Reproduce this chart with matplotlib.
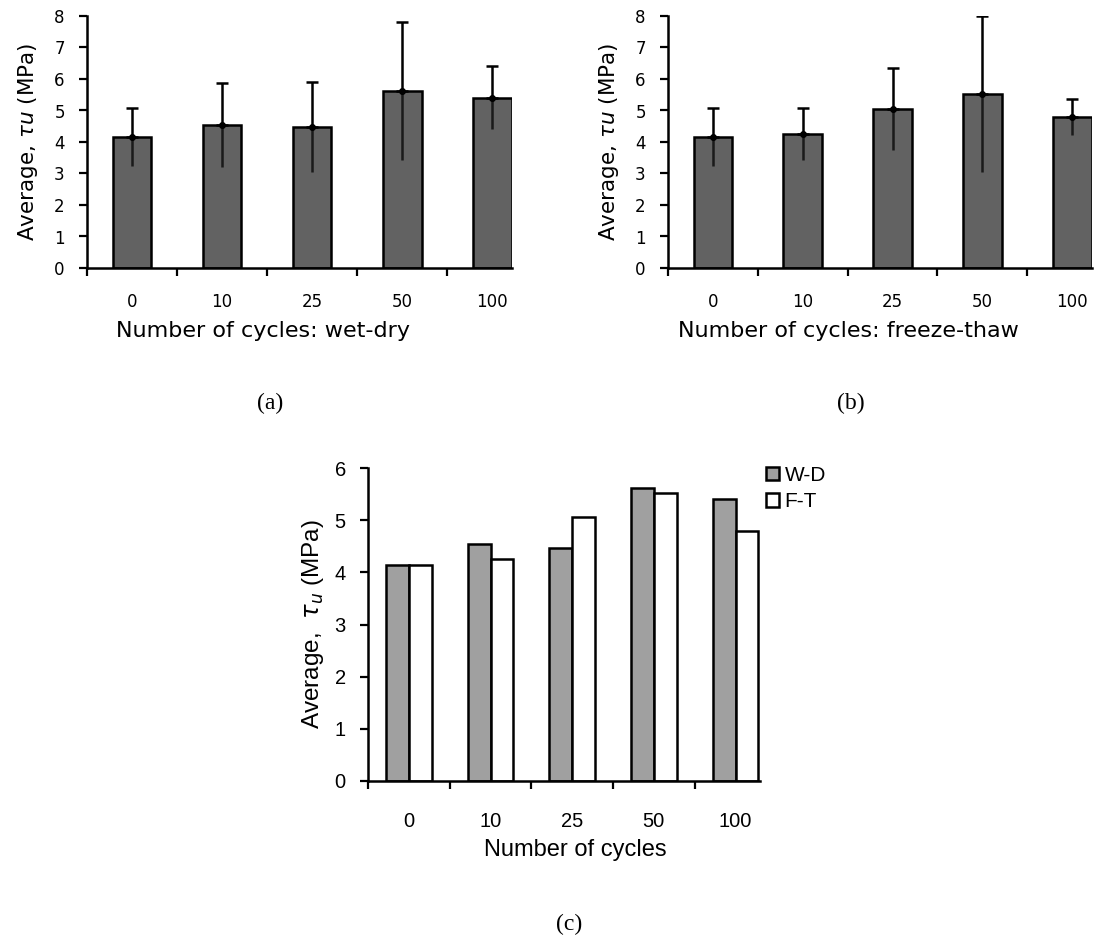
import numpy as np
import matplotlib
matplotlib.use("Agg")
import matplotlib.pyplot as plt
from matplotlib.ticker import FixedLocator, NullFormatter

# data
cycles = ["0", "10", "25", "50", "100"]
wd_mean = [4.15, 4.54, 4.47, 5.62, 5.40]
wd_err = [0.92, 1.32, 1.42, 2.18, 1.00]
ft_mean = [4.15, 4.25, 5.06, 5.52, 4.80]
ft_err = [0.92, 0.83, 1.30, 2.48, 0.57]

plt.rcParams["mathtext.fontset"] = "custom"
plt.rcParams["mathtext.rm"] = "DejaVu Sans"
plt.rcParams["mathtext.it"] = "DejaVu Sans:italic"

W, H = 1098, 938
fig = plt.figure(figsize=(W / 100, H / 100), dpi=100)


def px_axes(left, top, right, bottom):
    return fig.add_axes([left / W, 1 - bottom / H, (right - left) / W, (bottom - top) / H])


def style_axes(ax, ymax, xmax, fs_tick, family, pad):
    n = len(cycles)
    ax.set_xlim(-0.5, xmax)
    ax.set_ylim(0, ymax)
    ax.spines["top"].set_visible(False)
    ax.spines["right"].set_visible(False)
    ax.spines["left"].set_linewidth(1.8)
    ax.spines["bottom"].set_linewidth(1.8)
    ax.set_xticks(np.arange(n))
    ax.set_xticklabels(cycles, fontsize=fs_tick, family=family)
    ax.tick_params(axis="x", which="major", length=0, pad=pad)
    ax.xaxis.set_minor_locator(FixedLocator(np.arange(n) - 0.5))
    ax.xaxis.set_minor_formatter(NullFormatter())
    ax.tick_params(axis="x", which="minor", length=6, width=1.6, direction="out")
    ax.set_yticks(range(0, ymax + 1))
    ax.tick_params(axis="y", length=6, width=1.6, labelsize=fs_tick, pad=10)
    for lab in ax.get_yticklabels():
        lab.set_family(family)


def panel(ax, means, errs, xlabel, label_x):
    x = np.arange(len(cycles))
    means = np.array(means)
    errs = np.array(errs)
    ax.bar(x, means, width=0.43, color="#626262", edgecolor="black", linewidth=1.8)
    # lower half of the error bar shows only as a line inside the bar
    ax.vlines(x, means - errs, means, color="#1a1a1a", linewidth=1.8)
    ax.errorbar(x, means, yerr=[np.zeros_like(errs), errs], fmt="o", color="black",
                markersize=4, elinewidth=1.8, capsize=4, capthick=1.8)
    style_axes(ax, 8, 4.22, 12, "DejaVu Sans", 18)
    ax.set_xlabel(xlabel, fontsize=16, family="DejaVu Sans")
    ax.xaxis.set_label_coords(label_x, -0.21)
    ax.set_ylabel(r"Average, $\it{\tau u}$ (MPa)", fontsize=15.5, family="DejaVu Sans", labelpad=10)


ax_a = px_axes(87, 16, 512, 268)
panel(ax_a, wd_mean, wd_err, "Number of cycles: wet-dry", 0.415)
ax_b = px_axes(668, 16, 1092, 268)
panel(ax_b, ft_mean, ft_err, "Number of cycles: freeze-thaw", 0.425)

# panel c: both series side by side
ax_c = px_axes(368, 468, 760, 781)
x = np.arange(len(cycles))
ax_c.bar(x - 0.14, wd_mean, width=0.28, color="#a0a0a0", edgecolor="black",
         linewidth=1.8, label="W-D")
ax_c.bar(x + 0.14, ft_mean, width=0.28, color="white", edgecolor="black",
         linewidth=1.8, label="F-T")
style_axes(ax_c, 6, 4.3, 14.5, "Liberation Sans", 22)
ax_c.set_xlabel("Number of cycles", fontsize=17, family="Liberation Sans")
ax_c.xaxis.set_label_coords(0.53, -0.185)
ax_c.set_ylabel(r"Average,  $\mathit{\tau_u}$ (MPa)", fontsize=17.5, family="Liberation Sans", labelpad=6)
ax_c.legend(loc="upper left", bbox_to_anchor=(766 / W, 1 - 466 / H),
            bbox_transform=fig.transFigure, frameon=False,
            prop={"family": "Liberation Sans", "size": 15}, handlelength=0.6,
            handleheight=0.6, handletextpad=0.3, labelspacing=0.35,
            borderaxespad=0, borderpad=0)

fig.text(270 / W, 1 - 403 / H, "(a)", ha="center", va="center", fontsize=17, family="Liberation Serif")
fig.text(851 / W, 1 - 403 / H, "(b)", ha="center", va="center", fontsize=17, family="Liberation Serif")
fig.text(569 / W, 1 - 924 / H, "(c)", ha="center", va="center", fontsize=17, family="Liberation Serif")

fig.savefig("out.png", dpi=100)
